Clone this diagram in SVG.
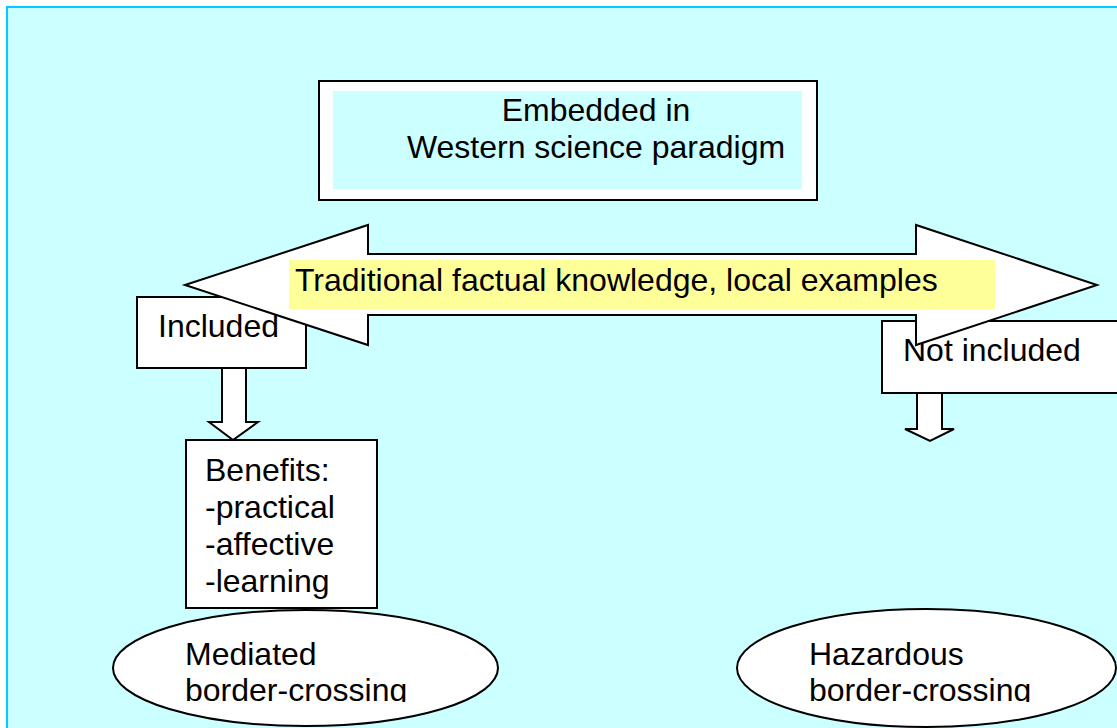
<svg xmlns="http://www.w3.org/2000/svg" width="1117" height="728" viewBox="0 0 1117 728">
<defs>
<style>
.box{fill:#ffffff;stroke:#000000;stroke-width:2}
.t{font-family:"Liberation Sans",Arial,sans-serif;font-size:32px;fill:#000000}
.arr{fill:#ffffff;stroke:#000000;stroke-width:2;stroke-linejoin:miter}
</style>
<clipPath id="clipTxt"><rect x="0" y="0" width="1117" height="702"/></clipPath>
</defs>
<rect x="0" y="0" width="1117" height="728" fill="#ffffff"/>
<rect x="7" y="7" width="1130" height="740" fill="#ccffff" stroke="#00ccff" stroke-width="2"/>

<g id="node-embedded">
<rect class="box" x="319" y="81" width="498" height="119"/>
<rect x="333" y="91" width="469" height="98" fill="#ccffff"/>
<text class="t" x="596" y="121" text-anchor="middle">Embedded in</text>
<text class="t" x="596" y="158" text-anchor="middle">Western science paradigm</text>
</g>

<g id="node-included">
<rect class="box" x="137" y="297" width="169" height="71"/>
<text class="t" x="158" y="337">Included</text>
</g>

<g id="node-notincluded">
<rect class="box" x="882" y="321" width="250" height="72"/>
<text class="t" x="903" y="361">Not included</text>
</g>

<g id="connectors">
<path class="arr" d="M185,285 L368,225 L368,254 L916,254 L916,225 L1097,285 L916,345 L916,315 L368,315 L368,345 Z"/>
<path class="arr" d="M222,368 L246,368 L246,422 L258,422 L233,440 L209,422 L222,422 Z"/>
<path class="arr" d="M917,393 L942,393 L942,429 L954,429 L930,441 L905,429 L917,429 Z"/>
</g>

<g id="node-traditional">
<rect x="289" y="260" width="706" height="49" fill="#ffff99"/>
<text class="t" x="295" y="291">Traditional factual knowledge, local examples</text>
</g>

<g id="node-benefits">
<rect class="box" x="186" y="440" width="191" height="168"/>
<text class="t" x="205" y="481">Benefits:</text>
<text class="t" x="205" y="518">-practical</text>
<text class="t" x="205" y="555">-affective</text>
<text class="t" x="205" y="592">-learning</text>
</g>

<g id="node-mediated">
<ellipse class="box" cx="305.5" cy="668" rx="192.5" ry="58"/>
<g clip-path="url(#clipTxt)">
<text class="t" x="185" y="665">Mediated</text>
<text class="t" x="185" y="701">border-crossing</text>
</g>
</g>

<g id="node-hazardous">
<ellipse class="box" cx="926.5" cy="668" rx="189.5" ry="59"/>
<g clip-path="url(#clipTxt)">
<text class="t" x="809" y="665">Hazardous</text>
<text class="t" x="809" y="701">border-crossing</text>
</g>
</g>
</svg>
